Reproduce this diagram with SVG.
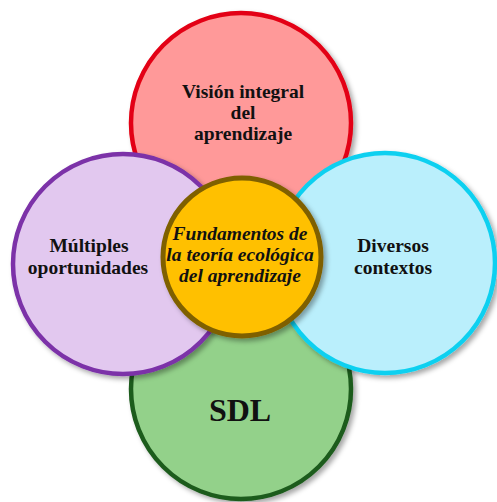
<svg xmlns="http://www.w3.org/2000/svg" width="497" height="502" viewBox="0 0 497 502">
<defs>
<filter id="sh" x="-20%" y="-20%" width="140%" height="140%">
<feDropShadow dx="3" dy="3" stdDeviation="2.5" flood-color="#000" flood-opacity="0.35"/>
</filter>
<style>
circle{stroke-width:4.5;filter:url(#sh)}
.t{font-family:"Liberation Serif","DejaVu Serif",serif;font-weight:bold;font-size:19.5px;fill:#111;text-anchor:middle}
.c{font-style:italic;font-size:19.5px}
</style>
</defs>
<rect width="497" height="502" fill="#fff"/>
<g id="top"><circle cx="241" cy="123" r="110" fill="#ff9999" stroke="#e30613"/>
<text class="t" x="243" y="98">Visión integral</text><text class="t" x="243" y="119">del</text><text class="t" x="243" y="140">aprendizaje</text></g>
<g id="bottom"><circle cx="241" cy="389" r="110" fill="#93d18a" stroke="#1d5b1d"/>
<text class="t" x="240" y="421" style="font-size:32px">SDL</text></g>
<g id="left"><circle cx="123" cy="264" r="110" fill="#e2c8ef" stroke="#7b32a8"/>
<text class="t" x="89" y="252">Múltiples</text><text class="t" x="88" y="274">oportunidades</text></g>
<g id="right"><circle cx="385" cy="263" r="110" fill="#baeffc" stroke="#10d0f0"/>
<text class="t" x="393" y="252">Diversos</text><text class="t" x="393" y="274">contextos</text></g>
<g id="center"><circle cx="242" cy="257" r="79" fill="#ffc000" stroke="#7f6000" style="stroke-width:5"/>
<text class="t c" x="240" y="240">Fundamentos de</text><text class="t c" x="240" y="261">la teoría ecológica</text><text class="t c" x="240" y="282">del aprendizaje</text></g>
<g id="connectors"/>
</svg>
